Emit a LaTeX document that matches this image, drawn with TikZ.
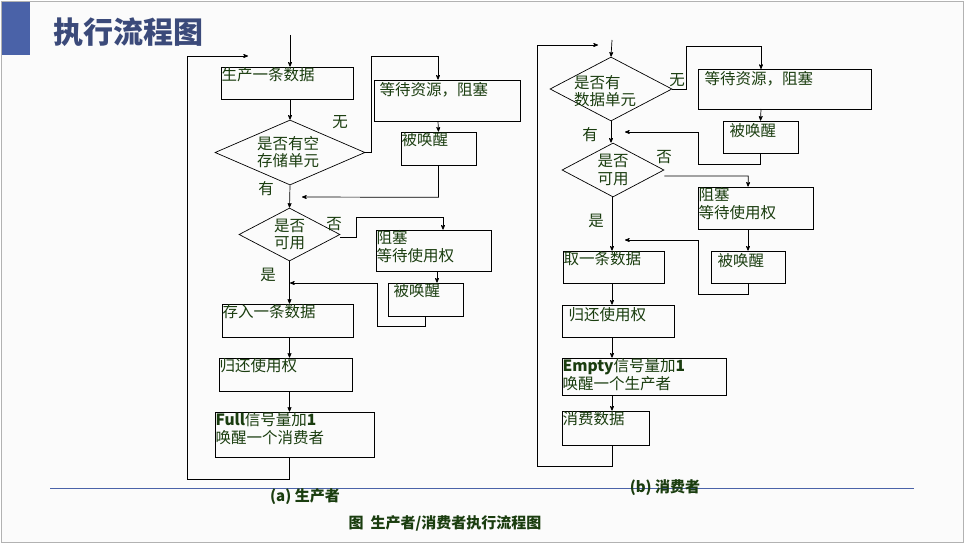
\documentclass[tikz,border=0pt]{standalone}
\usepackage{fontspec}
\setmainfont{Noto Sans CJK SC}
\usetikzlibrary{arrows,shapes.geometric}
\definecolor{txtgreen}{HTML}{1A3D0F}
\definecolor{barblue}{HTML}{4A62A8}
\definecolor{titleblue}{HTML}{3B4A7A}
\begin{document}
\begin{tikzpicture}[x=1pt,y=-1pt,->,>=stealth',line width=0.7pt,
                    font=\fontsize{15.5}{17.5}\selectfont\color{txtgreen},
                    box/.style={draw,rectangle,inner sep=0pt},
                    choice/.style={draw,diamond,inner sep=0pt},
                    txt/.style={align=left,inner sep=0.5pt,anchor=north west},
                    lbl/.style={inner sep=0pt}]

  % frame and header
  \useasboundingbox (0,0) rectangle (964,543);
  \draw[-,gray!60,fill=gray!3] (1,1) rectangle (963,542);
  \fill[barblue] (2,2) rectangle (30,55);
  \node[lbl,anchor=west,font=\fontsize{30}{32}\selectfont\bfseries\color{titleblue}] (title) at (53,32) {执行流程图};
  \draw[-,barblue,line width=0.6pt] (50,488) -- (914,488);

  % producer
  \node[box,minimum width=132,minimum height=32] (a1) at (287,83)    {};
  \node[choice,minimum width=150,minimum height=65] (da) at (290,152.5) {};
  \node[box,minimum width=146,minimum height=41] (a2) at (447,100.5) {};
  \node[box,minimum width=75,minimum height=33]  (a3) at (438.5,148.5) {};
  \node[choice,minimum width=101,minimum height=53] (db) at (289.5,234.5) {};
  \node[box,minimum width=115,minimum height=41] (a4) at (433.5,250.5) {};
  \node[box,minimum width=75,minimum height=33]  (a5) at (425.5,299.5) {};
  \node[box,minimum width=131,minimum height=33] (a6) at (287.5,320.5) {};
  \node[box,minimum width=133,minimum height=33] (a7) at (285.5,374.5) {};
  \node[box,minimum width=159,minimum height=45] (a8) at (294.5,434.5) {};

  \node[txt] at (a1.north west) {生产一条数据};
  \node[txt] at ([xshift=5pt,yshift=-2pt]a2.north west) {等待资源，阻塞};
  \node[txt] at (a3.north west) {被唤醒};
  \node[txt] at (a4.north west) {阻塞\\等待使用权};
  \node[txt] at ([xshift=5pt]a5.north west) {被唤醒};
  \node[txt] at (a6.north west) {存入一条数据};
  \node[txt] at (a7.north west) {归还使用权};
  \node[txt] at (a8.north west) {\textbf{Full}信号量加\textbf{1}\\唤醒一个消费者};
  \node[lbl,align=left] at (288,152) {是否有空\\存储单元};
  \node[lbl,align=left] at (db) {是否\\可用};
  \node[lbl] at (340,122) {无};
  \node[lbl] at (266,189) {有};
  \node[lbl] at (334,224) {否};
  \node[lbl] at (268,275) {是};

  \coordinate (atop) at (290,35);
  \coordinate (ain1) at (302,197);
  \coordinate (ain2) at (290,283);
  \coordinate (aloop) at (248,56);
  \draw (atop) -- (atop |- a1.north);
  \draw (a1.south -| atop) -- (da.north);
  \draw (da.east) -- ++(6,0) -- ++(0,-96) -| (a2.north -| 438,0);
  \draw ([xshift=-9pt]a2.south) -- (a3.north);
  \draw (a3.south) -- ++(0,32) -- (ain1);
  \draw (da.south) -- (db.north);
  \draw ([yshift=-3pt]db.east) -- ++(16,0) -- ++(0,-20) -| ([xshift=9.5pt]a4.north);
  \draw ([xshift=3.5pt]a4.south) -- ([xshift=11.5pt]a5.north);
  \draw[-] (a5.south) -- ++(0,10) -| (377,283);
  \draw (377,283) -- (ain2);
  \draw (db.south) -- (a6.north -| db.south);
  \draw (a6.south -| db.south) -- (a7.north -| db.south);
  \draw (a7.south -| db.south) -- (a8.north -| db.south);
  \draw (a8.south -| db.south) -- ++(0,22) -| (187,56) -- (aloop);

  % consumer
  \node[choice,minimum width=122,minimum height=64] (dc) at (611,89) {};
  \node[box,minimum width=173,minimum height=40] (b1) at (784.5,89) {};
  \node[box,minimum width=75,minimum height=32]  (b2) at (760.5,137) {};
  \node[choice,minimum width=102,minimum height=54] (dd) at (613,170) {};
  \node[box,minimum width=115,minimum height=42] (b3) at (755.5,208) {};
  \node[box,minimum width=74,minimum height=32]  (b4) at (748,267) {};
  \node[box,minimum width=101,minimum height=32] (b5) at (613.5,267) {};
  \node[box,minimum width=112,minimum height=32] (b6) at (618,321) {};
  \node[box,minimum width=164,minimum height=37] (b7) at (644,376.5) {};
  \node[box,minimum width=87,minimum height=34]  (b8) at (605.5,428) {};

  \node[txt] at ([xshift=6pt,yshift=-2pt]b1.north west) {等待资源，阻塞};
  \node[txt] at ([xshift=6pt,yshift=-2pt]b2.north west) {被唤醒};
  \node[txt] at (b3.north west) {阻塞\\等待使用权};
  \node[txt] at ([xshift=6pt,yshift=-2pt]b4.north west) {被唤醒};
  \node[txt] at (b5.north west) {取一条数据};
  \node[txt] at ([xshift=6pt,yshift=-2pt]b6.north west) {归还使用权};
  \node[txt] at (b7.north west) {\textbf{Empty}信号量加\textbf{1}\\唤醒一个生产者};
  \node[txt] at (b8.north west) {消费数据};
  \node[lbl,align=left] at (605,91) {是否有\\数据单元};
  \node[lbl,align=left] at (dd) {是否\\可用};
  \node[lbl] at (677,80) {无};
  \node[lbl] at (590,135) {有};
  \node[lbl] at (664,157) {否};
  \node[lbl] at (596,221) {是};

  \coordinate (btop) at (612,40);
  \coordinate (bin1) at (625,132);
  \coordinate (bin2) at (625,240);
  \coordinate (bloop) at (598,45);
  \draw (btop) -- (dc.north);
  \draw (dc.east) -- ++(14,0) -- ++(0,-43) -| (761,69);
  \draw (761,109) -- (b2.north);
  \draw[-] (b2.south) -- ++(0,11) -| (698,132);
  \draw (698,132) -- (bin1);
  \draw (dc.south) -- (dd.north -| dc.south);
  \draw ([yshift=-6pt]dd.east) -- ++(84,0) -- (b3.north -| b4.north);
  \draw (b3.south -| b4.north) -- (b4.north);
  \draw[-] (b4.south) -- ++(0,11) -| (698,240);
  \draw (698,240) -- (bin2);
  \draw (dd.south -| btop) -- (b5.north -| btop);
  \draw (b5.south -| btop) -- (b6.north -| btop);
  \draw (b6.south -| btop) -- (b7.north -| btop);
  \draw (b7.south -| btop) -- (b8.north -| btop);
  \draw (b8.south -| btop) -- ++(0,21) -| (537,45) -- (bloop);

  % captions
  \node[lbl,font=\fontsize{15}{17}\selectfont\bfseries\color{txtgreen}] (capa) at (305,497) {(a)\ 生产者};
  \node[lbl,font=\fontsize{15}{17}\selectfont\bfseries\color{txtgreen}] (capb) at (665,488) {(b)\ 消费者};
  \node[lbl,font=\fontsize{15}{17}\selectfont\bfseries\color{txtgreen}] (capc) at (445,523) {图\ \ 生产者/消费者执行流程图};
\end{tikzpicture}
\end{document}
